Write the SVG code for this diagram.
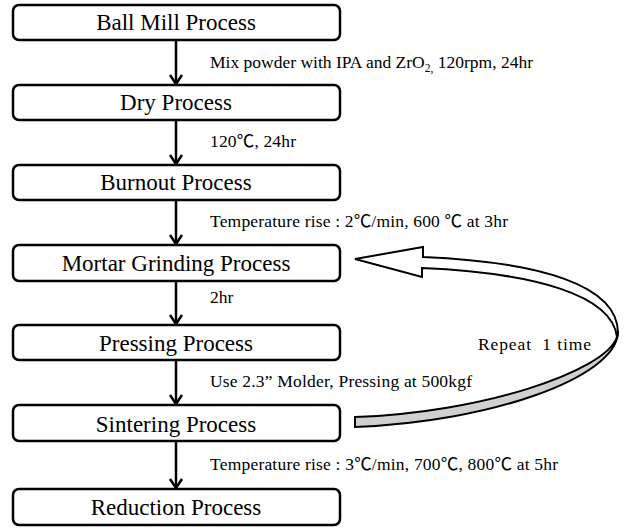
<svg xmlns="http://www.w3.org/2000/svg" width="627" height="528" viewBox="0 0 627 528">
<defs>
<style>
.box{fill:#fff;stroke:#000;stroke-width:2.5}
.bt{font-size:23px;text-anchor:middle;fill:#000}
.lb{font-size:17.5px;fill:#000}
.ln{stroke:#000;stroke-width:2.5;fill:none}
.ra{stroke:#000;stroke-width:2;stroke-linejoin:miter}
</style>
</defs>
<g id="connectors">
<line class="ln" x1="176" y1="40" x2="176" y2="84"/>
<path class="ln" d="M170,75 L176,84 L182,75"/>
<line class="ln" x1="176" y1="120" x2="176" y2="164"/>
<path class="ln" d="M170,155 L176,164 L182,155"/>
<line class="ln" x1="176" y1="200" x2="176" y2="244"/>
<path class="ln" d="M170,235 L176,244 L182,235"/>
<line class="ln" x1="176" y1="281" x2="176" y2="324"/>
<path class="ln" d="M170,315 L176,324 L182,315"/>
<line class="ln" x1="176" y1="360" x2="176" y2="404"/>
<path class="ln" d="M170,395 L176,404 L182,395"/>
<line class="ln" x1="176" y1="441" x2="176" y2="488"/>
<path class="ln" d="M170,479 L176,488 L182,479"/>
<g id="repeat-arrow">
<path class="ra" fill="#d0d0d0" d="M618,333 C615,378 490,422 355,427 L355,417 C480,413 605,372 617,337 Z"/>
<path class="ra" fill="#fff" d="M355,259 L423,247 L423,257 C540,262 618,285 618,333 L617,337 C612,295 535,273 422,268 L422,277 Z"/>
</g>
</g>
<g font-family="'Liberation Serif', 'Times New Roman', 'Noto Sans CJK KR', serif">
<g id="n1"><rect class="box" x="13" y="5" width="327" height="35" rx="6"/><text class="bt" x="176" y="30">Ball Mill Process</text></g>
<g id="n2"><rect class="box" x="13" y="85" width="327" height="35" rx="6"/><text class="bt" x="176" y="110">Dry Process</text></g>
<g id="n3"><rect class="box" x="13" y="165" width="327" height="35" rx="6"/><text class="bt" x="176" y="190">Burnout Process</text></g>
<g id="n4"><rect class="box" x="13" y="245" width="327" height="36" rx="6"/><text class="bt" x="176" y="271">Mortar Grinding Process</text></g>
<g id="n5"><rect class="box" x="13" y="325" width="327" height="35" rx="6"/><text class="bt" x="176" y="351">Pressing Process</text></g>
<g id="n6"><rect class="box" x="13" y="405" width="327" height="36" rx="6"/><text class="bt" x="176" y="432">Sintering Process</text></g>
<g id="n7"><rect class="box" x="13" y="489" width="327" height="36" rx="6"/><text class="bt" x="176" y="515">Reduction Process</text></g>
<g id="labels">
<text class="lb" x="210" y="68">Mix powder with IPA and ZrO<tspan font-size="11.5" dy="4">2,</tspan><tspan dy="-4"> 120rpm, 24hr</tspan></text>
<text class="lb" x="210" y="147" textLength="86" lengthAdjust="spacing">120℃, 24hr</text>
<text class="lb" x="210" y="227" textLength="298" lengthAdjust="spacing">Temperature rise : 2℃/min, 600 ℃ at 3hr</text>
<text class="lb" x="210" y="303">2hr</text>
<text class="lb" x="210" y="387" textLength="262" lengthAdjust="spacing">Use 2.3” Molder, Pressing at 500kgf</text>
<text class="lb" x="210" y="470" textLength="348" lengthAdjust="spacing">Temperature rise : 3℃/min, 700℃, 800℃ at 5hr</text>
<text class="lb" x="478" y="350" font-size="19.5" xml:space="preserve" textLength="113" lengthAdjust="spacing">Repeat  1 time</text>
</g>
</g>
</svg>
